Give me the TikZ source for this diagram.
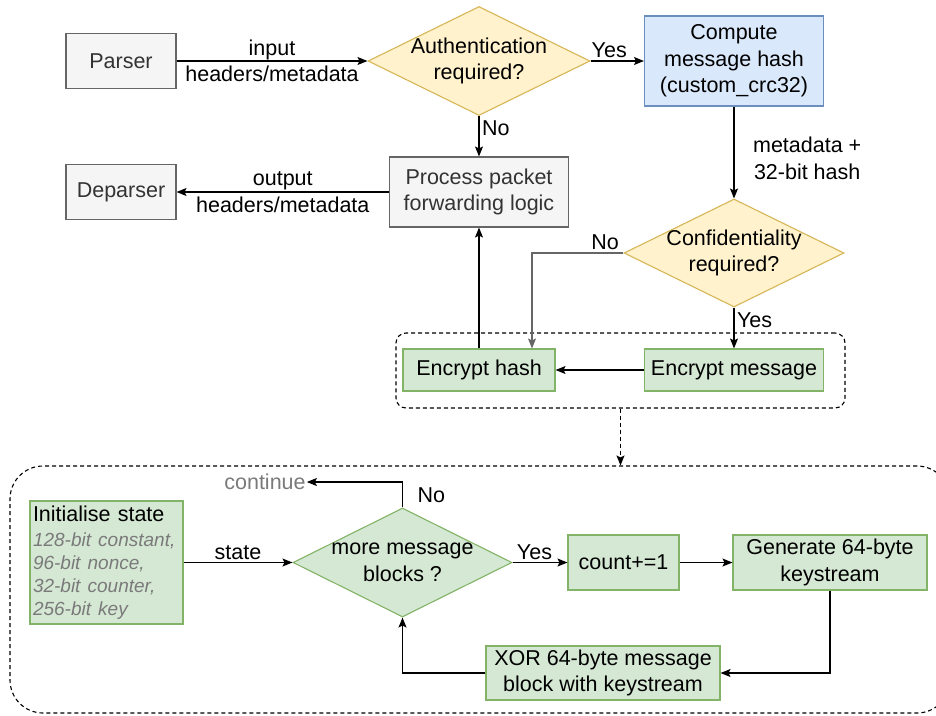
\documentclass[tikz,border=0pt]{standalone}
\usepackage{fontspec}
\setmainfont{Liberation Sans}
\usetikzlibrary{shapes.geometric,arrows.meta}
\definecolor{greyfill}{HTML}{F5F5F5}
\definecolor{greyline}{HTML}{666666}
\definecolor{greytext}{HTML}{333333}
\definecolor{yellowfill}{HTML}{FFF2CC}
\definecolor{yellowline}{HTML}{D6B656}
\definecolor{bluefill}{HTML}{DAE8FC}
\definecolor{blueline}{HTML}{6C8EBF}
\definecolor{greenfill}{HTML}{D5E8D4}
\definecolor{greenline}{HTML}{82B366}
\definecolor{softtext}{HTML}{7A7A7A}
\newcommand{\mainsz}{\fontsize{21.5}{26.5}\selectfont}
\newcommand{\subsz}{\fontsize{19}{23}\selectfont}

\begin{document}
\begin{tikzpicture}[x=1pt, y=-1pt,
    every node/.style={font=\mainsz},
    box/.style={draw, line width=1.1pt, inner sep=0pt, align=center},
    greybox/.style={box, draw=greyline, fill=greyfill, text=greytext},
    bluebox/.style={box, draw=blueline, fill=bluefill},
    greenbox/.style={box, draw=greenline, fill=greenfill},
    yesno/.style={diamond, draw=yellowline, fill=yellowfill, line width=1.1pt, inner sep=0pt},
    greenyesno/.style={diamond, draw=greenline, fill=greenfill, line width=1.1pt, inner sep=0pt},
    dtext/.style={align=center},
    lbl/.style={inner sep=2.5pt},
    flow/.style={-{Stealth[length=10pt,width=8pt,inset=2pt]}, line width=1.2pt},
    group/.style={draw, dash pattern=on 4pt off 3pt, line width=1.1pt, inner sep=0pt}]
    \useasboundingbox (0,0) rectangle (936,715);
    \clip (0,0) rectangle (936,715);

    \node[group, rounded corners=10pt, minimum width=449pt, minimum height=75pt] (encgrp) at (620.5,370.5) {};
    \node[group, rounded corners=33pt, minimum width=940pt, minimum height=247pt] (chacha) at (480,589.5) {};

    \node[greybox, minimum width=110pt, minimum height=55pt] (parser) at (121,61) {Parser};
    \node[greybox, minimum width=110pt, minimum height=55pt] (deparser) at (121,192) {Deparser};
    \node[yesno, minimum width=222pt, minimum height=109pt, label={[dtext]center:Authentication\\required?}] (auth) at (479,61) {};
    \node[bluebox, minimum width=179pt, minimum height=90pt] (compute) at (734,61) {Compute\\message hash\\(custom\_crc32)};
    \node[greybox, minimum width=179pt, minimum height=70pt] (process) at (479,192) {Process packet\\forwarding logic};
    \node[yesno, minimum width=220pt, minimum height=108pt, label={[dtext]center:Confidentiality\\required?}] (conf) at (734,253) {};
    \node[greenbox, minimum width=152pt, minimum height=42pt] (enchash) at (479,370) {Encrypt hash};
    \node[greenbox, minimum width=179pt, minimum height=42pt] (encmsg) at (734,370) {Encrypt message};

    \node[greenbox, text width=147pt, align=left, minimum height=123pt, inner sep=3pt] (init) at (106.5,562.5)
        {{Initialise state\par}\vspace{2pt}{\subsz\itshape\color{softtext}128-bit constant,\\96-bit nonce,\\32-bit counter,\\256-bit key\par}};
    \node[greenyesno, minimum width=219pt, minimum height=109pt, label={[dtext]center:more message\\blocks ?}] (more) at (402.5,562.5) {};
    \node[greenbox, minimum width=111pt, minimum height=55pt] (count) at (623.5,562.5) {count+=1};
    \node[greenbox, minimum width=194pt, minimum height=55pt] (gen) at (830,562.5) {Generate 64-byte\\keystream};
    \node[greenbox, minimum width=234pt, minimum height=54pt] (xor) at (603,673) {XOR 64-byte message\\block with keystream};
    \node[text=softtext, inner sep=1pt] (cont) at (265,482) {continue};

    \draw[flow] (parser) -- node[dtext]{input\\headers/metadata} (auth);
    \draw[flow] (auth) -- node[lbl, above, pos=0.35]{Yes} (compute);
    \draw[flow] (auth) -- node[lbl, right, pos=0.3]{No} (process);
    \draw[flow] (process) -- node[dtext]{output\\headers/metadata} (deparser);
    \draw[flow] (compute) -- node[lbl, right, dtext, xshift=16pt, yshift=-6pt]{metadata +\\32-bit hash} (conf);
    \draw[flow, draw=greyline] (conf.west) -| node[lbl, pos=0.1, above]{No} ([xshift=53pt]enchash.north);
    \draw[flow] (conf) -- node[lbl, right, pos=0.3]{Yes} (encmsg);
    \draw[flow] (encmsg) -- (enchash);
    \draw[flow] (enchash) -- (process);
    \draw[flow, dash pattern=on 4pt off 3pt] (encgrp.south) -- (encgrp.south |- chacha.north);

    \draw[flow] (init) -- node[lbl, above]{state} (more);
    \draw[flow] (more) -- node[lbl, above, pos=0.4]{Yes} (count);
    \draw[flow] (count) -- (gen);
    \draw[flow] (gen.south) |- (xor.east);
    \draw[flow] (xor.west) -| (more.south);
    \draw[flow] (more.north) |- node[lbl, pos=0.25, right=12pt]{No} (cont.east);
\end{tikzpicture}
\end{document}
